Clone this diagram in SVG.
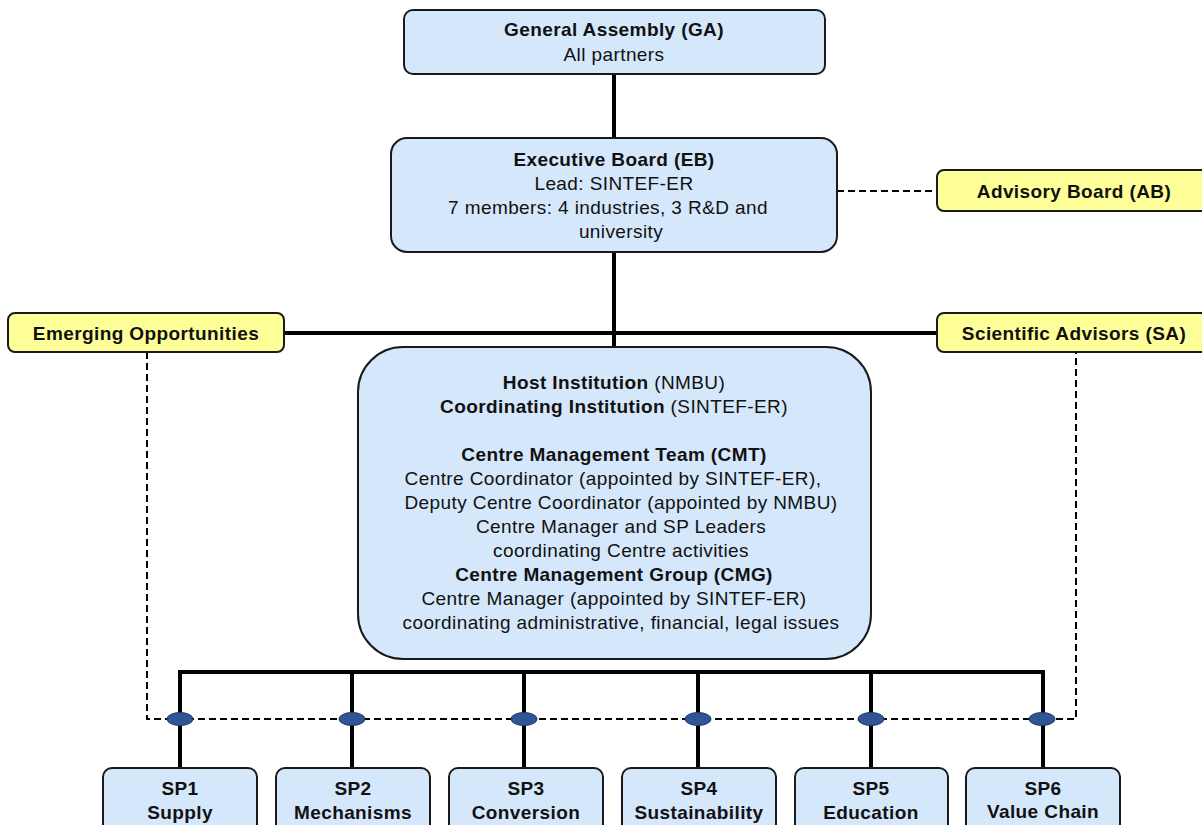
<svg xmlns="http://www.w3.org/2000/svg" width="1202" height="825" viewBox="0 0 1202 825">
<style>
text{font-family:"Liberation Sans",Arial,sans-serif;font-size:19px;letter-spacing:0.4px;fill:#111;text-anchor:middle}
.b{font-weight:bold}
.blue{fill:#d5e7fb;stroke:#1a1a1a;stroke-width:2}
.yel{fill:#ffff99;stroke:#1a1a1a;stroke-width:2}
.solid{stroke:#000;stroke-width:4;fill:none}
.dash{stroke:#000;stroke-width:2;fill:none;stroke-dasharray:7,4}
.dot{fill:#2f5597;stroke:#1f3864;stroke-width:1}
</style>
<rect width="1202" height="825" fill="#fff"/>
<g id="connectors">
<line class="solid" x1="614" y1="74" x2="614" y2="138"/>
<line class="solid" x1="614" y1="252" x2="614" y2="347"/>
<line class="solid" x1="284" y1="333" x2="937" y2="333"/>
<line class="dash" x1="837" y1="191" x2="937" y2="191"/>
<polyline class="dash" points="147,352 147,719 1076,719 1076,352"/>
<polyline class="solid" points="180,768 180,672 1043,672 1043,768"/>
<line class="solid" x1="352" y1="672" x2="352" y2="768"/>
<line class="solid" x1="524" y1="672" x2="524" y2="768"/>
<line class="solid" x1="698" y1="672" x2="698" y2="768"/>
<line class="solid" x1="871" y1="672" x2="871" y2="768"/>
<ellipse class="dot" cx="180" cy="719" rx="13" ry="6.5"/>
<ellipse class="dot" cx="352" cy="719" rx="13" ry="6.5"/>
<ellipse class="dot" cx="524" cy="719" rx="13" ry="6.5"/>
<ellipse class="dot" cx="698" cy="719" rx="13" ry="6.5"/>
<ellipse class="dot" cx="871" cy="719" rx="13" ry="6.5"/>
<ellipse class="dot" cx="1042" cy="719" rx="13" ry="6.5"/>
</g>
<g id="ga">
<rect class="blue" x="404" y="10" width="421" height="64" rx="9"/>
<text class="b" x="614" y="36">General Assembly (GA)</text>
<text x="614" y="61">All partners</text>
</g>
<g id="eb">
<rect class="blue" x="391" y="138" width="446" height="114" rx="16"/>
<text class="b" x="614" y="166">Executive Board (EB)</text>
<text x="614" y="190">Lead: SINTEF-ER</text>
<text x="608" y="214">7 members: 4 industries, 3 R&amp;D and</text>
<text x="621" y="238">university</text>
</g>
<g id="ab">
<rect class="yel" x="937" y="170" width="275" height="41" rx="7"/>
<text class="b" x="1074" y="198">Advisory Board (AB)</text>
</g>
<g id="eo">
<rect class="yel" x="8" y="313" width="276" height="39" rx="7"/>
<text class="b" x="146" y="340">Emerging Opportunities</text>
</g>
<g id="sa">
<rect class="yel" x="937" y="313" width="275" height="39" rx="7"/>
<text class="b" x="1074" y="340">Scientific Advisors (SA)</text>
</g>
<g id="centre">
<rect class="blue" x="358" y="347" width="513" height="312" rx="45"/>
<text x="614" y="389"><tspan class="b">Host Institution</tspan> (NMBU)</text>
<text x="614" y="413"><tspan class="b">Coordinating Institution</tspan> (SINTEF-ER)</text>
<text class="b" x="614" y="461">Centre Management Team (CMT)</text>
<text x="613" y="485">Centre Coordinator (appointed by SINTEF-ER),</text>
<text x="621" y="509">Deputy Centre Coordinator (appointed by NMBU)</text>
<text x="621" y="533">Centre Manager and SP Leaders</text>
<text x="621" y="557">coordinating Centre activities</text>
<text class="b" x="614" y="581">Centre Management Group (CMG)</text>
<text x="614" y="605">Centre Manager (appointed by SINTEF-ER)</text>
<text x="621" y="629">coordinating administrative, financial, legal issues</text>
</g>
<g id="sp1">
<rect class="blue" x="103" y="768" width="154" height="70" rx="9"/>
<text class="b" x="180" y="795">SP1</text>
<text class="b" x="180" y="819">Supply</text>
</g>
<g id="sp2">
<rect class="blue" x="276" y="768" width="154" height="70" rx="9"/>
<text class="b" x="353" y="795">SP2</text>
<text class="b" x="353" y="819">Mechanisms</text>
</g>
<g id="sp3">
<rect class="blue" x="449" y="768" width="154" height="70" rx="9"/>
<text class="b" x="526" y="795">SP3</text>
<text class="b" x="526" y="819">Conversion</text>
</g>
<g id="sp4">
<rect class="blue" x="622" y="768" width="154" height="70" rx="9"/>
<text class="b" x="699" y="795">SP4</text>
<text class="b" x="699" y="819">Sustainability</text>
</g>
<g id="sp5">
<rect class="blue" x="795" y="768" width="153" height="70" rx="9"/>
<text class="b" x="871" y="795">SP5</text>
<text class="b" x="871" y="819">Education</text>
</g>
<g id="sp6">
<rect class="blue" x="966" y="768" width="154" height="70" rx="9"/>
<text class="b" x="1043" y="795">SP6</text>
<text class="b" x="1043" y="818">Value Chain</text>
</g>
</svg>
